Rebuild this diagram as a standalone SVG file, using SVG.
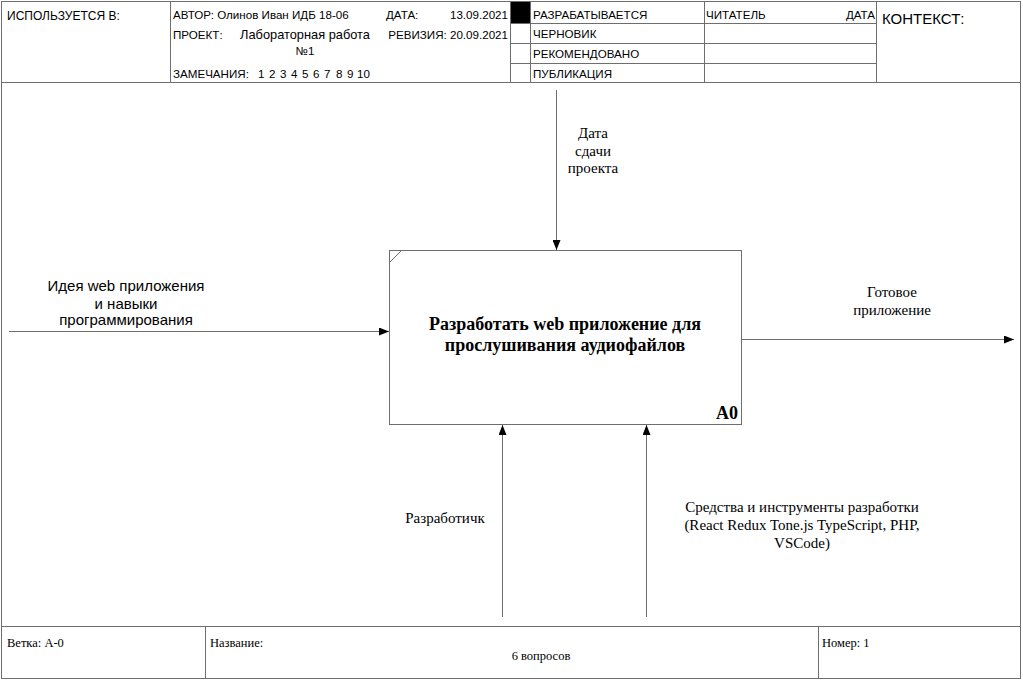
<svg xmlns="http://www.w3.org/2000/svg" width="1023" height="680" viewBox="0 0 1023 680">
<style>
.ln{stroke:#6e6e6e;stroke-width:1;fill:none}
.hd{font-family:"Liberation Sans",Arial,sans-serif;font-size:11.6px;fill:#000}
.lb{font-family:"Liberation Serif","Times New Roman",serif;font-size:15px;fill:#000}
.ft{font-family:"Liberation Serif","Times New Roman",serif;font-size:12.5px;fill:#000}
.bx{font-family:"Liberation Serif","Times New Roman",serif;font-size:18px;font-weight:bold;fill:#000}
.ar{stroke:#6e6e6e;stroke-width:1;fill:none;marker-end:url(#ah)}
</style>
<defs>
<marker id="ah" viewBox="0 0 10 8" refX="10" refY="4" markerWidth="10" markerHeight="8" markerUnits="userSpaceOnUse" orient="auto">
<path d="M0,0 L10,4 L0,8 Z" fill="#000"/>
</marker>
</defs>
<rect width="1023" height="680" fill="#fff"/>
<g id="frame">
<rect class="ln" x="1.5" y="1.5" width="1019" height="677"/>
<line class="ln" x1="1" y1="82.5" x2="1021" y2="82.5"/>
<line class="ln" x1="170.5" y1="1" x2="170.5" y2="82"/>
<line class="ln" x1="510.5" y1="1" x2="510.5" y2="82"/>
<line class="ln" x1="530.5" y1="1" x2="530.5" y2="82"/>
<line class="ln" x1="704.5" y1="1" x2="704.5" y2="82"/>
<line class="ln" x1="876.5" y1="1" x2="876.5" y2="82"/>
<line class="ln" x1="510" y1="23.5" x2="876" y2="23.5"/>
<line class="ln" x1="510" y1="43.5" x2="876" y2="43.5"/>
<line class="ln" x1="510" y1="63.5" x2="876" y2="63.5"/>
<rect x="511" y="2" width="19" height="21" fill="#000"/>
<line class="ln" x1="1" y1="626.5" x2="1021" y2="626.5"/>
<line class="ln" x1="205.5" y1="626" x2="205.5" y2="678"/>
<line class="ln" x1="818.5" y1="626" x2="818.5" y2="678"/>
</g>
<g id="header-text">
<text class="hd" x="7" y="20" style="font-size:12px">ИСПОЛЬЗУЕТСЯ В:</text>
<text class="hd" x="173" y="19">АВТОР: Олинов Иван ИДБ 18-06</text>
<text class="hd" x="386" y="19">ДАТА:</text>
<text class="hd" x="508" y="19" text-anchor="end">13.09.2021</text>
<text class="hd" x="173" y="39">ПРОЕКТ:</text>
<text class="hd" x="305" y="39" text-anchor="middle" style="font-size:12.8px">Лабораторная работа</text>
<text class="hd" x="305" y="55" text-anchor="middle">№1</text>
<text class="hd" x="508" y="39" text-anchor="end">РЕВИЗИЯ: 20.09.2021</text>
<text class="hd" x="173" y="78">ЗАМЕЧАНИЯ:<tspan x="258">1</tspan><tspan x="269">2</tspan><tspan x="280">3</tspan><tspan x="291">4</tspan><tspan x="302">5</tspan><tspan x="313">6</tspan><tspan x="324">7</tspan><tspan x="336">8</tspan><tspan x="347">9</tspan><tspan x="357">10</tspan></text>
<text class="hd" x="533" y="19">РАЗРАБАТЫВАЕТСЯ</text>
<text class="hd" x="533" y="38">ЧЕРНОВИК</text>
<text class="hd" x="533" y="58">РЕКОМЕНДОВАНО</text>
<text class="hd" x="533" y="78">ПУБЛИКАЦИЯ</text>
<text class="hd" x="706" y="19">ЧИТАТЕЛЬ</text>
<text class="hd" x="875" y="19" text-anchor="end">ДАТА</text>
<text class="hd" x="882" y="24" style="font-size:15px">КОНТЕКСТ:</text>
</g>
<g id="footer-text">
<text class="ft" x="7" y="647">Ветка:  А-0</text>
<text class="ft" x="210" y="647">Название:</text>
<text class="ft" x="541" y="660" text-anchor="middle">6 вопросов</text>
<text class="ft" x="822" y="647">Номер: 1</text>
</g>
<g id="A0">
<rect class="ln" x="389.5" y="250.5" width="352" height="174"/>
<line class="ln" x1="389.5" y1="262.5" x2="401.5" y2="250.5"/>
<text class="bx" x="565" y="330" text-anchor="middle">Разработать web приложение для</text>
<text class="bx" x="565" y="351" text-anchor="middle">прослушивания аудиофайлов</text>
<text class="bx" x="738" y="419" text-anchor="end">A0</text>
</g>
<g id="connectors">
<line class="ar" x1="556.5" y1="90" x2="556.5" y2="250"/>
<line class="ar" x1="9" y1="331.5" x2="389" y2="331.5"/>
<line class="ar" x1="741" y1="339.5" x2="1014" y2="339.5"/>
<line class="ar" x1="502.5" y1="617" x2="502.5" y2="425"/>
<line class="ar" x1="646.5" y1="617" x2="646.5" y2="425"/>
</g>
<g id="labels">
<text class="lb" x="593" y="138" text-anchor="middle">Дата</text>
<text class="lb" x="593" y="156" text-anchor="middle">сдачи</text>
<text class="lb" x="593" y="173" text-anchor="middle">проекта</text>
<text class="hd" x="126" y="291" text-anchor="middle" style="font-size:15px">Идея web приложения</text>
<text class="hd" x="126" y="309" text-anchor="middle" style="font-size:15px">и навыки</text>
<text class="hd" x="126" y="325" text-anchor="middle" style="font-size:15px">программирования</text>
<text class="lb" x="892" y="297" text-anchor="middle">Готовое</text>
<text class="lb" x="892" y="315" text-anchor="middle">приложение</text>
<text class="lb" x="445" y="523" text-anchor="middle">Разработичк</text>
<text class="lb" x="802" y="512" text-anchor="middle">Средства и инструменты разработки</text>
<text class="lb" x="802" y="530" text-anchor="middle">(React Redux Tone.js TypeScript, PHP,</text>
<text class="lb" x="802" y="548" text-anchor="middle">VSCode)</text>
</g>
</svg>
